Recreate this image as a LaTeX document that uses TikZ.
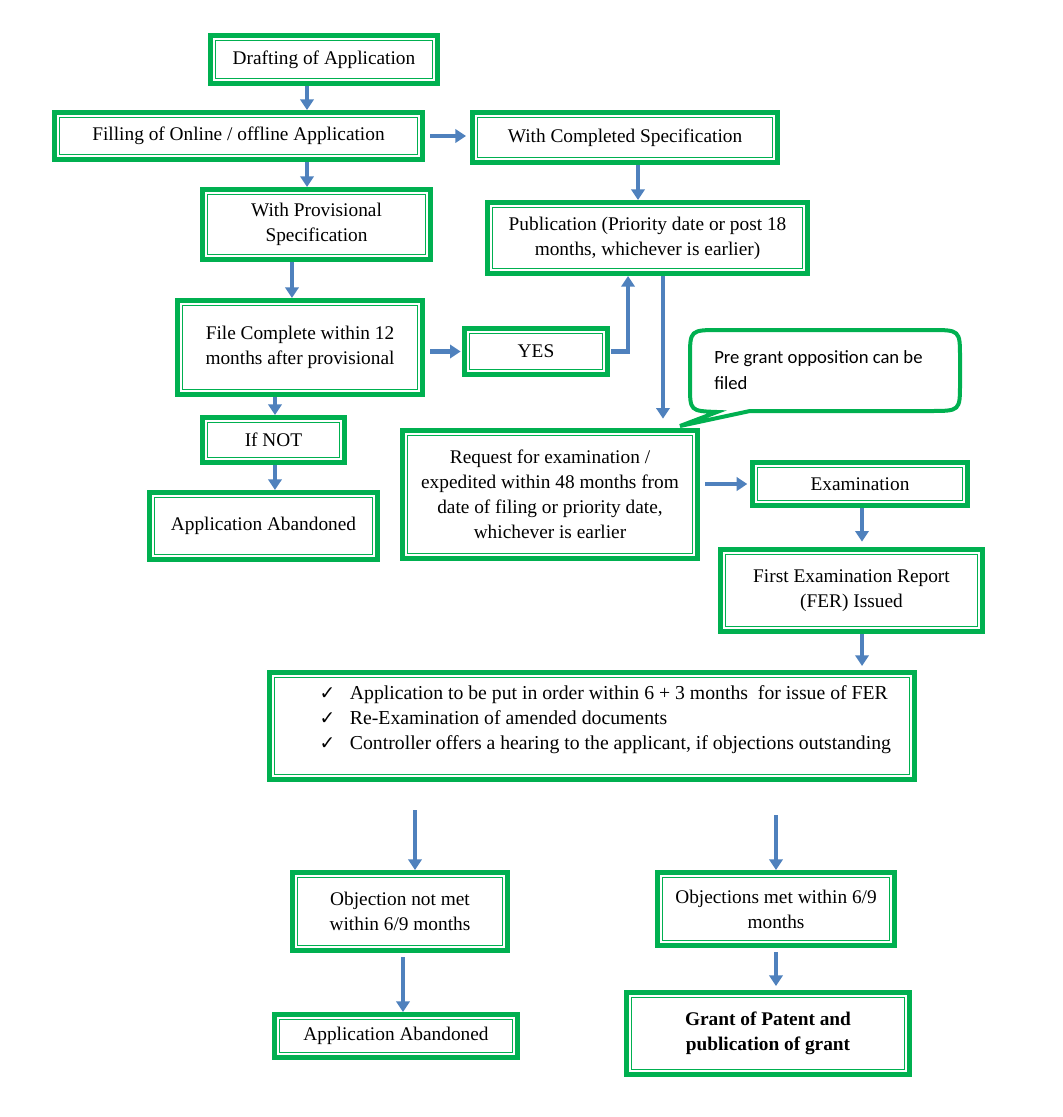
\documentclass[tikz,border=0pt]{standalone}
\usepackage{fontspec}
\setmainfont{Liberation Serif}
\newfontfamily\calfont{Carlito}
\newfontfamily\djv{DejaVu Sans}
\usetikzlibrary{arrows.meta,calc}
\definecolor{grn}{HTML}{00B050}
\definecolor{blu}{HTML}{4F81BD}
\newcommand{\mainsz}{\fontsize{14.5}{18.75}\selectfont}
\newcommand{\chk}{{\djv\fontsize{14}{12}\selectfont ✓}}
\tikzset{
 box/.style={draw=grn, line width=3.75pt, fill=white, inner sep=0pt, align=center, font=\mainsz,
   path picture={\draw[grn, line width=1pt] ([shift={(3.6pt,3.6pt)}]path picture bounding box.south west) rectangle ([shift={(-3.6pt,-3.6pt)}]path picture bounding box.north east);}},
 arr/.style={draw=blu, line width=3.4pt, -{Triangle[length=8pt,width=10pt]}},
 callout/.style={draw=grn, line width=3pt, fill=white}
}
\begin{document}
\begin{tikzpicture}[x=0.75pt,y=-0.75pt]
\useasboundingbox (0,0) rectangle (1063,1117);
\node[box, minimum width=170.25pt, minimum height=36pt] (d1) at (324,59.5) {Drafting of Application};
\node[box, minimum width=276pt, minimum height=35.25pt] (fil) at (238.5,136) {Filling of Online / offline Application};
\node[box, minimum width=228.75pt, minimum height=37.5pt] (comp) at (625,137.5) {With Completed Specification};
\node[box, minimum width=171pt, minimum height=52.5pt] (prov) at (316.5,224.5) {With Provisional\\Specification};
\node[box, minimum width=240pt, minimum height=53.25pt] (pub) at (647.5,238) {Publication (Priority date or post 18\\months, whichever is earlier)};
\node[box, minimum width=183.75pt, minimum height=70.5pt] (file) at (300,347.5) {File Complete within 12\\months after provisional};
\node[box, minimum width=107.25pt, minimum height=34.5pt] (yes) at (536,351.5) {YES};
\node[box, minimum width=106.5pt, minimum height=33.75pt] (ifnot) at (273.5,440) {If NOT};
\node[box, minimum width=171pt, minimum height=50.25pt] (ab1) at (263.5,526) {Application Abandoned};
\node[box, minimum width=221.25pt, minimum height=96pt] (req) at (550,494.5) {Request for examination /\\expedited within 48 months from\\date of filing or priority date,\\whichever is earlier};
\node[box, minimum width=161.25pt, minimum height=32.25pt] (exam) at (860,484) {Examination};
\node[box, minimum width=196.5pt, minimum height=61.5pt] (fer) at (851.5,590.5) {First Examination Report\\(FER) Issued};
\node[box, minimum width=483.75pt, minimum height=80.25pt, font=\fontsize{14.8}{18.75}\selectfont] (chkl) at (592,726) {\hspace*{20pt}\raisebox{0pt}[\height][\dimexpr\depth+10pt\relax]{\begin{tabular}{@{}l@{\hspace{11pt}}l@{}}
\chk & Application to be put in order within 6 + 3 months\ \ for issue of FER\\
\chk & Re-Examination of amended documents\\
\chk & Controller offers a hearing to the applicant, if objections outstanding
\end{tabular}}};
\node[box, minimum width=161.25pt, minimum height=58.5pt] (obj1) at (400,911.5) {Objection not met\\within 6/9 months};
\node[box, minimum width=177.75pt, minimum height=54.75pt] (obj2) at (776,909) {Objections met within 6/9\\months};
\node[box, minimum width=182.25pt, minimum height=32.25pt] (ab2) at (396,1036) {Application Abandoned};
\node[box, minimum width=212.25pt, minimum height=61.5pt, font=\mainsz\bfseries] (grant) at (768,1033.5) {Grant of Patent and\\publication of grant};
% callout
\draw[callout] (750,411) -- (930,411) .. controls (960,411) .. (960,383) -- (960,358) .. controls (960,330) .. (930,330) -- (720,330) .. controls (690,330) .. (690,358) -- (690,385) .. controls (690,411) .. (717,412) -- (680,426) -- cycle;
\node[anchor=north west, align=left, inner sep=0pt, font=\calfont\fontsize{14}{19.5}\selectfont] (ctext) at (714,350) {Pre grant opposition can be\\filed};
% arrows
\draw[arr] ([xshift=-12.75pt]d1.south) -- ([xshift=-12.75pt]d1.south |- fil.north);
\draw[arr] ([xshift=4pt]fil.east) -- ([xshift=-3pt]fil.east -| comp.west);
\draw[arr] ([xshift=51.4pt]fil.south) -- ([xshift=51.4pt]fil.south |- prov.north);
\draw[arr] ([xshift=9.75pt]comp.south) -- ([xshift=9.75pt]comp.south |- pub.north);
\draw[arr] ([xshift=-18.4pt]prov.south) -- ([xshift=-18.4pt]prov.south |- file.north);
\draw[arr] ([xshift=4pt]file.east |- yes.west) -- ([xshift=-1pt]yes.west);
\draw[arr] ([xshift=1pt]yes.east) -| ([xshift=-14.6pt]pub.south);
\draw[arr, shorten >=7pt] ([xshift=11.6pt]pub.south) -- ([xshift=11.6pt]pub.south |- req.north);
\draw[arr] ([xshift=-18.75pt]file.south) -- ([xshift=-18.75pt]file.south |- ifnot.north);
\draw[arr] ([xshift=1.1pt]ifnot.south) -- ([xshift=1.1pt]ifnot.south |- ab1.north);
\draw[arr, shorten <=4pt, shorten >=2pt] (exam.west -| req.east) -- (exam.west);
\draw[arr, shorten >=4pt] ([xshift=1.5pt]exam.south) -- ([xshift=1.5pt]exam.south |- fer.north);
\draw[arr, shorten >=3pt] ([xshift=7.9pt]fer.south) -- ([xshift=7.9pt]fer.south |- chkl.north);
\draw[arr, shorten <=21pt] ([xshift=11.25pt]obj1.north |- chkl.south) -- ([xshift=11.25pt]obj1.north);
\draw[arr, shorten <=25pt] (obj2.north |- chkl.south) -- (obj2.north);
\draw[arr, shorten <=3pt] ([xshift=2.25pt]obj1.south) -- ([xshift=2.25pt]obj1.south |- ab2.north);
\draw[arr, shorten <=3pt, shorten >=3pt] (obj2.south) -- (obj2.south |- grant.north);
\end{tikzpicture}
\end{document}
